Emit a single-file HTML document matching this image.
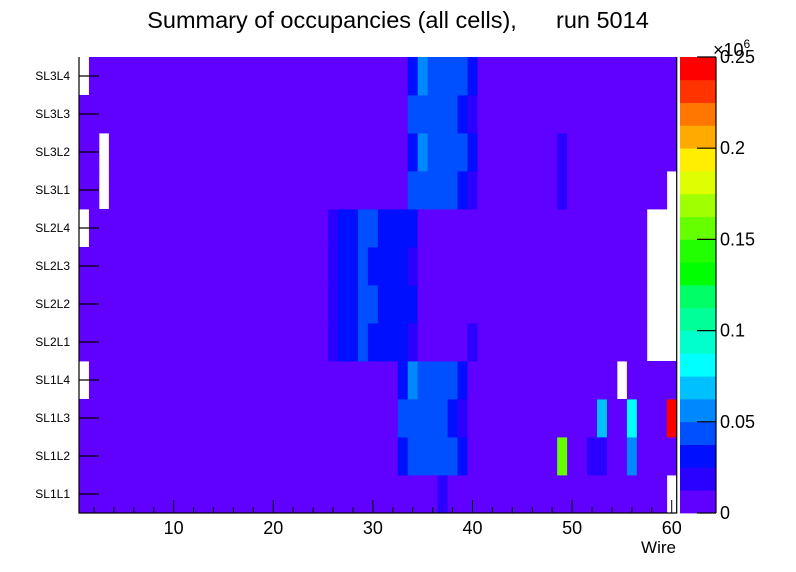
<!DOCTYPE html>
<html><head><meta charset="utf-8"><style>
html,body{margin:0;padding:0;background:#fff;}
svg{display:block;font-family:"Liberation Sans",Arial,sans-serif;}
</style></head><body>
<svg id="chart" width="796" height="572" viewBox="0 0 796 572" xmlns="http://www.w3.org/2000/svg">
<text x="398" y="28" font-size="23.5" text-anchor="middle" fill="#000" xml:space="preserve">Summary of occupancies (all cells),      run 5014</text>
<g id="cells"></g>
<g id="axes"></g>
<g id="palette"></g>
<text x="676" y="553" font-size="17" text-anchor="end">Wire</text>
<text x="713" y="56" font-size="18">×10<tspan font-size="12" dy="-8">6</tspan></text>
</svg>
<script>
// Row labels (bottom to top)
const rowLabels = ["SL1L1","SL1L2","SL1L3","SL1L4","SL2L1","SL2L2","SL2L3","SL2L4","SL3L1","SL3L2","SL3L3","SL3L4"];
// Occupancy per wire (bins 1..60), in thousands; null = empty
const SL1L1 = [6,6,6,6,6,6,6,6,6,6, 6,6,6,6,6,6,6,6,6,6, 6,6,6,6,6,6,6,6,6,6, 6,6,6,6,6,6,19,6,6,6, 6,6,6,6,6,6,6,6,6,6, 6,6,6,6,6,6,6,6,6,null];
const SL1L2 = [6,6,6,6,6,6,6,6,6,6, 6,6,6,6,6,6,6,6,6,6, 6,6,6,6,6,6,6,6,6,6, 6,6,31,44,44,44,44,44,31,6, 6,6,6,6,6,6,6,6,156,6, 6,19,19,6,6,56,6,6,6,6];
const SL1L3 = [6,6,6,6,6,6,6,6,6,6, 6,6,6,6,6,6,6,6,6,6, 6,6,6,6,6,6,6,6,6,6, 6,6,44,44,44,44,44,31,19,6, 6,6,6,6,6,6,6,6,6,6, 6,6,69,6,6,81,6,6,6,244];
const SL1L4 = [null,6,6,6,6,6,6,6,6,6, 6,6,6,6,6,6,6,6,6,6, 6,6,6,6,6,6,6,6,6,6, 6,6,31,56,44,44,44,44,31,6, 6,6,6,6,6,6,6,6,6,6, 6,6,6,6,null,6,6,6,6,6];
const SL2L1 = [6,6,6,6,6,6,6,6,6,6, 6,6,6,6,6,6,6,6,6,6, 6,6,6,6,6,19,31,31,44,31, 31,31,31,19,6,6,6,6,6,19, 6,6,6,6,6,6,6,6,6,6, 6,6,6,6,6,6,6,null,null,null];
const SL2L2 = [6,6,6,6,6,6,6,6,6,6, 6,6,6,6,6,6,6,6,6,6, 6,6,6,6,6,19,31,31,44,44, 31,31,31,31,6,6,6,6,6,6, 6,6,6,6,6,6,6,6,6,6, 6,6,6,6,6,6,6,null,null,null];
const SL2L3 = [6,6,6,6,6,6,6,6,6,6, 6,6,6,6,6,6,6,6,6,6, 6,6,6,6,6,19,31,31,44,31, 31,31,31,19,6,6,6,6,6,6, 6,6,6,6,6,6,6,6,6,6, 6,6,6,6,6,6,6,null,null,null];
const SL2L4 = [null,6,6,6,6,6,6,6,6,6, 6,6,6,6,6,6,6,6,6,6, 6,6,6,6,6,19,31,31,44,44, 31,31,31,31,6,6,6,6,6,6, 6,6,6,6,6,6,6,6,6,6, 6,6,6,6,6,6,6,null,null,null];
const SL3L1 = [6,6,null,6,6,6,6,6,6,6, 6,6,6,6,6,6,6,6,6,6, 6,6,6,6,6,6,6,6,6,6, 6,6,6,44,44,44,44,44,31,19, 6,6,6,6,6,6,6,6,19,6, 6,6,6,6,6,6,6,6,6,null];
const SL3L2 = [6,6,null,6,6,6,6,6,6,6, 6,6,6,6,6,6,6,6,6,6, 6,6,6,6,6,6,6,6,6,6, 6,6,6,31,56,44,44,44,44,31, 6,6,6,6,6,6,6,6,19,6, 6,6,6,6,6,6,6,6,6,6];
const SL3L3 = [6,6,6,6,6,6,6,6,6,6, 6,6,6,6,6,6,6,6,6,6, 6,6,6,6,6,6,6,6,6,6, 6,6,6,44,44,44,44,44,31,19, 6,6,6,6,6,6,6,6,6,6, 6,6,6,6,6,6,6,6,6,6];
const SL3L4 = [null,6,6,6,6,6,6,6,6,6, 6,6,6,6,6,6,6,6,6,6, 6,6,6,6,6,6,6,6,6,6, 6,6,6,31,56,44,44,44,44,31, 6,6,6,6,6,6,6,6,6,6, 6,6,6,6,6,6,6,6,6,6];
const rowValues = [SL1L1,SL1L2,SL1L3,SL1L4,SL2L1,SL2L2,SL2L3,SL2L4,SL3L1,SL3L2,SL3L3,SL3L4];
const xTicks = [10,20,30,40,50,60];
const zTicks = [0,0.05,0.1,0.15,0.2,0.25];
const zTickLabels = ["0","0.05","0.1","0.15","0.2","0.25"];
const paletteColors = ["#6000ff","#2a00ff","#0010ff","#0050ff","#0088ff","#00c0ff","#00ffff","#00ffcc","#00ff99","#00ff66","#00ff00","#22ff00","#66ff00","#a0ff00","#ddff00","#ffee00","#ffaa00","#ff7700","#ff3300","#ff0000"];

const NS="http://www.w3.org/2000/svg";
const L=79,R=676.7,T=57,B=513;
const xMin=0.5,xMax=60.5,zMax=0.25;
const xs=v=>L+(v-xMin)/(xMax-xMin)*(R-L);
const rowH=(B-T)/rowLabels.length;
const ys=i=>B-(i+1)*rowH;
const zs=v=>B-v/zMax*(B-T);
function mk(tag,attrs,parent){const e=document.createElementNS(NS,tag);for(const k in attrs)e.setAttribute(k,attrs[k]);parent.appendChild(e);return e;}
function colorOf(vk){const z=vk/1000;let lv=Math.floor(z/zMax*paletteColors.length);lv=Math.max(0,Math.min(paletteColors.length-1,lv));return paletteColors[lv];}

const cells=document.getElementById('cells');
rowValues.forEach((row,i)=>{
  row.forEach((v,j)=>{
    if(v===null)return;
    const bin=j+1;
    const x0=xs(bin-0.5),x1=xs(bin+0.5);
    const r=mk('rect',{x:x0,y:ys(i),width:x1-x0+0.4,height:rowH+0.4,fill:colorOf(v)},cells);
    
    
  });
});

const ax=document.getElementById('axes');
const frame=mk('path',{d:`M${L},${T}V${B}H${R}V${T}`,fill:'none',stroke:'#000','stroke-width':1.2},ax);


rowLabels.forEach((lab,i)=>{
  const yc=ys(i)+rowH/2;
  const t=mk('line',{x1:L,x2:L+20,y1:yc,y2:yc,stroke:'#000','stroke-width':1.2},ax);
  
  
  const tx=mk('text',{x:70,y:yc+4,'font-size':12,'text-anchor':'end'},ax);
  tx.textContent=lab;
  
  
});
for(let v=2;v<=60;v+=2){
  const major=xTicks.includes(v);
  const t=mk('line',{x1:xs(v),x2:xs(v),y1:B,y2:B-(major?13:6),stroke:'#000','stroke-width':1},ax);
  
  
}
xTicks.forEach(v=>{
  const tx=mk('text',{x:xs(v),y:534,'font-size':18,'text-anchor':'middle'},ax);
  tx.textContent=v;
  
  
});

const pal=document.getElementById('palette');
const PL=680,PR=716,ph=(B-T)/paletteColors.length;
paletteColors.forEach((c,k)=>{
  const r=mk('rect',{x:PL,y:B-(k+1)*ph,width:PR-PL,height:ph+0.4,fill:c},pal);
  
  
});
const pax=mk('line',{x1:PR,x2:PR,y1:T,y2:B,stroke:'#000','stroke-width':1.2},pal);


zTicks.forEach((v,k)=>{
  const y=zs(v);
  const t=mk('line',{x1:PR-19,x2:PR,y1:y,y2:y,stroke:'#000','stroke-width':1.2},pal);
  
  
  const tx=mk('text',{x:720,y:y+6,'font-size':18},pal);
  tx.textContent=zTickLabels[k];
  
  
});
</script>
</body></html>
